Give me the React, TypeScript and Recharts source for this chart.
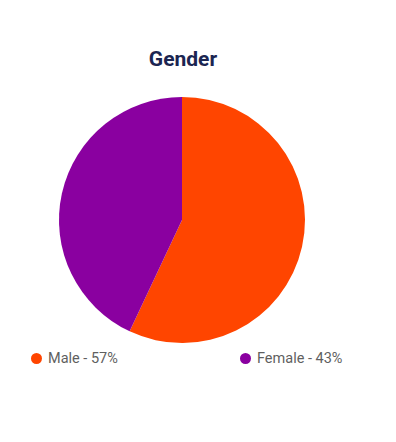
import { Cell, Legend, Pie, PieChart } from "recharts";

const CATEGORIES = ["Male", "Female"];
const SHARES = [57, 43];
const COLORS = ["#ff4500", "#8a00a0"];

const data = CATEGORIES.map((name, i) => ({ name, value: SHARES[i] }));

const LEGEND_X = [31, 240];

function GenderLegend() {
  return (
    <div style={{ position: "relative", height: 20 }}>
      {data.map((d, i) => (
        <div
          key={d.name}
          style={{
            position: "absolute",
            left: LEGEND_X[i],
            top: 0,
            display: "flex",
            alignItems: "center",
            fontFamily: "Roboto, sans-serif",
            fontSize: 14.5,
            color: "#5f5f5f",
            whiteSpace: "nowrap",
          }}
        >
          <span
            style={{
              display: "inline-block",
              width: 11,
              height: 11,
              borderRadius: "50%",
              background: COLORS[i],
              marginRight: 6,
            }}
          />
          {`${d.name} - ${d.value}%`}
        </div>
      ))}
    </div>
  );
}

export default function App() {
  return (
    <div style={{ position: "absolute", left: 0, top: 0, width: 396, height: 442, background: "#fff" }}>
      <div
        style={{
          position: "absolute",
          left: 0,
          width: 366,
          top: 47,
          textAlign: "center",
          fontFamily: "Roboto, sans-serif",
          fontWeight: 700,
          fontSize: 21,
          color: "#1b2551",
        }}
      >
        Gender
      </div>
      <PieChart
        width={396}
        height={442}
        margin={{ top: 0, right: 0, bottom: 0, left: 0 }}
        style={{ position: "absolute", left: 0, top: 0 }}
      >
        <Pie
          data={data}
          dataKey="value"
          nameKey="name"
          cx={182}
          cy={220}
          outerRadius={123}
          startAngle={90}
          endAngle={-270}
          stroke="none"
          isAnimationActive={false}
        >
          {data.map((d, i) => (
            <Cell key={d.name} fill={COLORS[i]} />
          ))}
        </Pie>
        <Legend
          content={<GenderLegend />}
          wrapperStyle={{ position: "absolute", left: 0, top: 350, width: 396 }}
        />
      </PieChart>
    </div>
  );
}
